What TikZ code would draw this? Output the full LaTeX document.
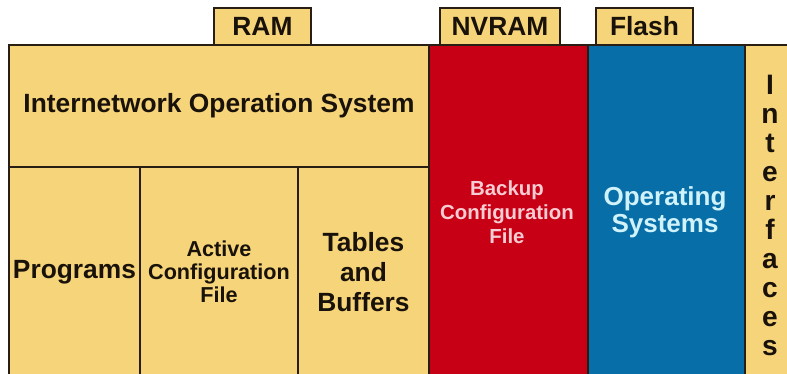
\documentclass[tikz,border=0pt]{standalone}
\usepackage{fontspec}
\setmainfont{Liberation Sans}
\usepackage{tikz}
\usetikzlibrary{positioning}

\definecolor{ramyellow}{RGB}{246,212,122}
\definecolor{nvramred}{RGB}{200,0,22}
\definecolor{flashblue}{RGB}{8,110,168}
\definecolor{edgecol}{RGB}{40,30,20}
\definecolor{inkcol}{RGB}{25,18,10}
\definecolor{pinkink}{RGB}{246,205,210}
\definecolor{cyanink}{RGB}{208,242,250}

\begin{document}
\begin{tikzpicture}[x=0.02cm, y=-0.02cm,
  cell/.style={draw=edgecol, line width=1.1pt, fill=ramyellow, inner sep=0pt, anchor=north west},
  big/.style={text=inkcol, font=\bfseries\fontsize{15}{17}\selectfont, align=center},
  small/.style={text=inkcol, font=\bfseries\fontsize{12.3}{13}\selectfont, align=center}]

% one pixel of the reference
\def\px{0.02cm}

\clip (0,0) rectangle (787,374);

% Memory tabs
\node[cell, big, minimum width=97*\px,  minimum height=37*\px] (ramtab)   at (213,7) {RAM};
\node[cell, big, minimum width=120*\px, minimum height=37*\px] (nvramtab) at (439,7) {NVRAM};
\node[cell, big, minimum width=97*\px,  minimum height=37*\px] (flashtab) at (595,7) {Flash};

% RAM contents
\node[cell, big, minimum width=420*\px, minimum height=122*\px] (ios) at (8,44) {Internetwork Operation System};
\node[cell, big, minimum width=131*\px, minimum height=210*\px] (prog)   at (8,166)   {Programs};
\node[cell, small, minimum width=158*\px, minimum height=210*\px] (active) at (139,166) {Active\\Configuration\\File};
\node[cell, big, font=\bfseries\fontsize{15}{17.2}\selectfont, minimum width=131*\px, minimum height=210*\px] (tables) at (297,166) {Tables\\and\\Buffers};

% NVRAM and Flash
\node[cell, fill=nvramred,  minimum width=159*\px, minimum height=332*\px] (nvram) at (428,44) {};
\node[cell, fill=flashblue, minimum width=157*\px, minimum height=332*\px] (flash) at (587,44) {};
\node[small, text=pinkink, font=\bfseries\fontsize{11.6}{13.6}\selectfont] (backup) at (507,212) {Backup\\Configuration\\File};
\node[big, text=cyanink, font=\bfseries\fontsize{14.8}{15.4}\selectfont] (opsys) at (665,212) {Operating\\Systems};

% Interfaces
\node[cell, minimum width=60*\px, minimum height=332*\px] (intf) at (744,44) {};
\foreach \ch [count=\i from 0] in {I,n,t,e,r,f,a,c,e,s}
  \node[big, font=\bfseries\fontsize{16}{17}\selectfont, anchor=base, inner sep=0pt] (intf\i) at (770,95+28.9*\i) {\ch};

\end{tikzpicture}
\end{document}
